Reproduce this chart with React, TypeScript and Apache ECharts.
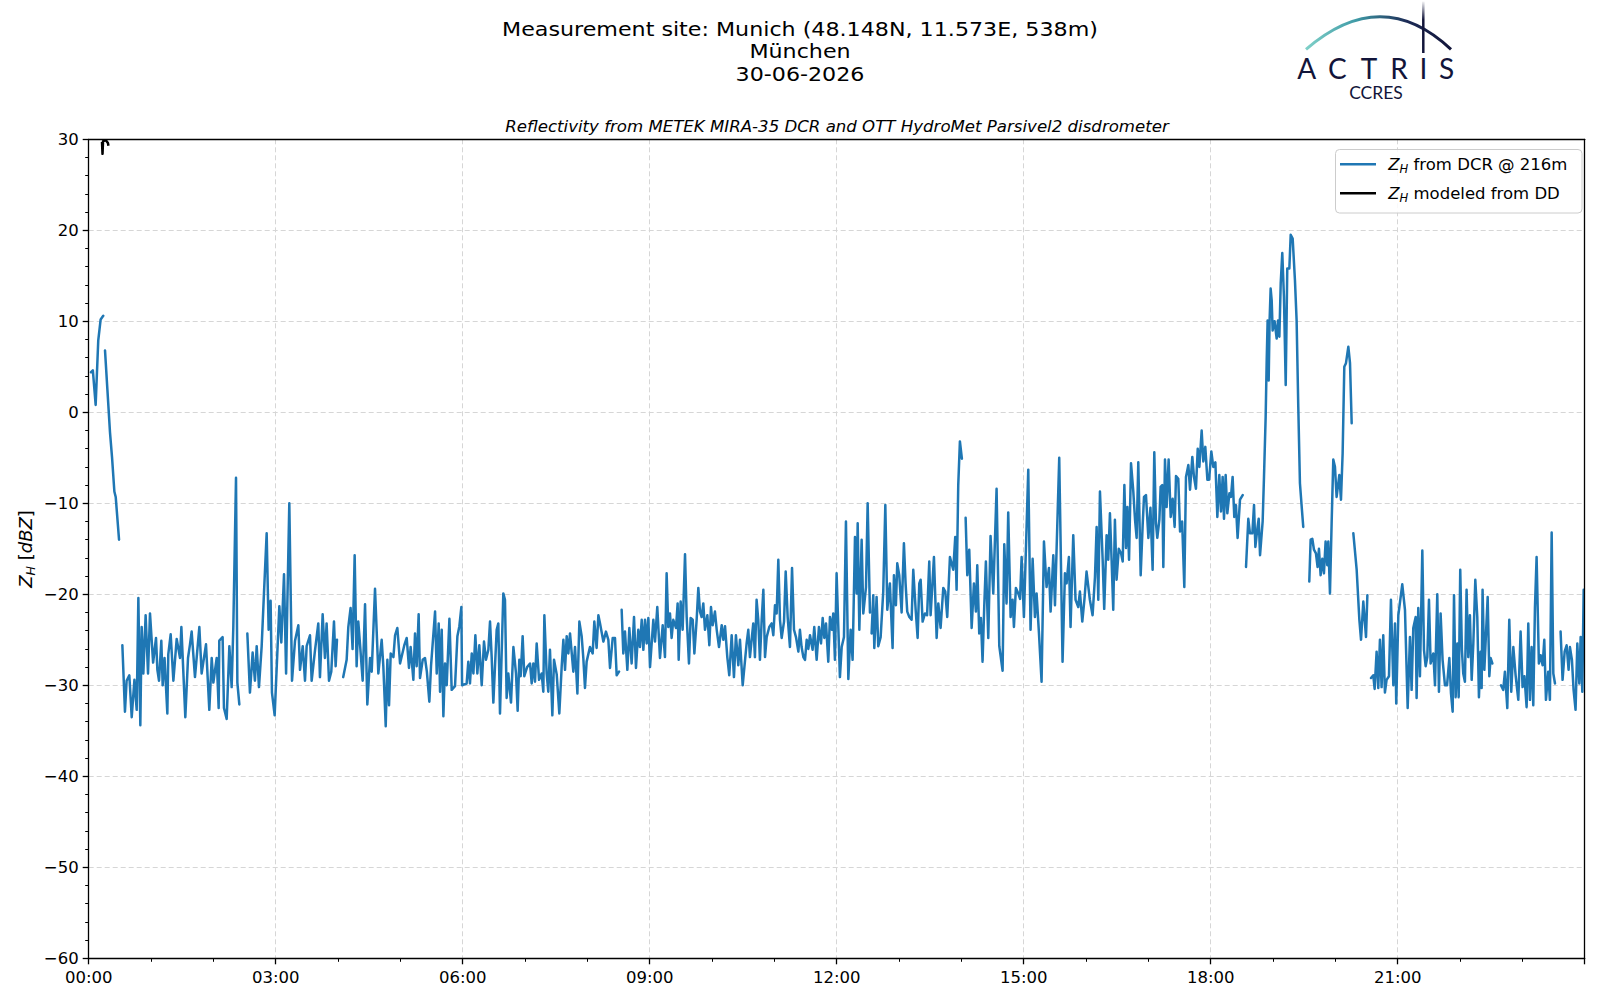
import React, { useEffect, useRef } from "react";
import * as echarts from "echarts";

const TITLE_LINES = ["Measurement site: Munich (48.148N, 11.573E, 538m)", "München", "30-06-2026"];
const SUBTITLE = "Reflectivity from METEK MIRA-35 DCR and OTT HydroMet Parsivel2 disdrometer";
const LEGEND_DCR = "{i|Z}{s|H}{r| from DCR @ 216m}";
const LEGEND_DD = "{i|Z}{s|H}{r| modeled from DD}";
const Y_NAME = "{i|Z}{s|H}{r| [}{i|dBZ}{r|]}";
const LOGO_LETTERS = ["A", "C", "T", "R", "I", "S"];

// x: minutes since 00:00, y: reflectivity dBZ
const X_MIN = 0;
const X_MAX = 1440;
const X_STEP = 180;
const Y_MIN = -60;
const Y_MAX = 30;
const Y_STEP = 10;

const dcrSeg1 = [[2.2, 4.4], [4, 4.6], [6.7, 0.8], [9.2, 7.9], [11.5, 10.2], [14, 10.6]];
const dcrSeg2 = [[15.7, 6.8], [18, 2.5], [20.5, -2.2], [22.5, -5], [24.7, -8.7], [26, -9.3], [29.2, -14]];
const dcrSeg3 = [[32.4, -25.6], [34.9, -32.9], [36.5, -29.5], [39.1, -28.9], [41.4, -33.5], [44, -29.4], [46.2, -32.7], [47.8, -20.4], [49.7, -34.4], [51, -23.6], [52.6, -28.7], [54.8, -22.3], [57.1, -28.7], [59, -22.1], [62, -27.5], [64.8, -24.8], [66.1, -28.3], [67.7, -29.5], [69.9, -25.1], [71.2, -30], [73, -27], [75.7, -33.1], [76.6, -26.6], [78.9, -24.4], [81.5, -29.5], [84.7, -24.9], [87.9, -27], [89.2, -23.6], [93, -33.5], [95.6, -27], [97.5, -25.5], [99.1, -24.1], [102.3, -29.1], [106.5, -23.6], [108.7, -28.7], [112.9, -25.5], [116.1, -32.7], [118.4, -27], [120, -29.7], [123.2, -27], [125.1, -32.5], [125.7, -25.1], [128.9, -24.7], [130.2, -32.5], [132.8, -33.7], [135.4, -25.7], [137.6, -30.2], [139.2, -23.6], [141.8, -7.2], [143.1, -29.7], [145, -32.1]];
const dcrSeg4 = [[152.7, -24.3], [155.2, -30.8], [157.8, -26.4], [160, -29.5], [161.7, -25.7], [163.9, -30.2], [166.5, -25.7], [168.7, -19.9], [171.3, -13.3], [173.2, -23.9], [175.1, -20.7], [176.4, -30.8], [179, -33.3], [183.5, -21.3], [185.4, -25.3], [188, -17.8], [190, -28.7], [191.2, -21.1], [193.1, -10], [195.7, -29.5], [198.6, -25.1], [201.8, -23.4], [203.4, -28.3], [206, -25.7], [208.2, -29.5], [209.8, -25.7], [213, -24.5], [214.6, -29.5], [217.8, -26.2], [221, -23.2], [222.6, -29.1], [225.2, -22.2], [227.4, -27], [229, -23.2], [231.3, -29.5], [233.5, -28.5], [236.1, -23], [237.7, -27.9], [239, -25]];
const dcrSeg5 = [[245, -29.1], [248.3, -27.2], [249.9, -23.6], [252.1, -21.5], [254, -26], [256, -15.7], [257.9, -27.9], [259.5, -23], [261.5, -26], [263.7, -29.5], [266, -21.1], [268.2, -32.1], [270.8, -27], [272.4, -28.5], [275.6, -19.4], [278.8, -28.7], [282, -25], [283.6, -27.9], [285.9, -34.5], [287.5, -27.2], [289.1, -32.2], [290.7, -26.5], [293.3, -26.9], [294.9, -24.5], [297.1, -23.7], [299.7, -27.6], [303.8, -25.6], [306.1, -24.8], [308.3, -28.1], [309.9, -25.8], [312.5, -29.4], [314.1, -24.3], [315.7, -27.9], [317.6, -22.2], [318.9, -29.2], [321.5, -27.2], [323.7, -27], [325.5, -28.5], [327.9, -31.8], [329.5, -27.9], [333.4, -21.9], [335, -28.7], [336.9, -23.2], [338.2, -30.7], [339.8, -23.9], [341.4, -33.4], [343, -27.6], [344.6, -30], [347.2, -22.7], [349.4, -30.5], [352.6, -30.1], [354.9, -24.6], [356.8, -23.5], [358.7, -21.4], [359.4, -30], [363.8, -29.8], [365.4, -27.4], [367, -29.8], [368.7, -26.5], [370.3, -28.7], [372.2, -24.5], [374.1, -28.7], [376, -25.6], [378.3, -30], [380.5, -25.2], [382.4, -27.2], [384.7, -26.1], [386.3, -23], [387.9, -26.9], [389.5, -31.9], [392.7, -23.9], [394.3, -23.2], [395.9, -33.1], [399.1, -19.9], [400.7, -20.6], [402.3, -31.4], [403.9, -28.7], [406.5, -31.9], [408.8, -25.8], [411.3, -28.7], [412.9, -32.8], [414.5, -27.2], [415.8, -29], [417.7, -24.6], [419.3, -29], [422, -28], [424.8, -27.6], [426.4, -29.8], [428, -27.6], [429.6, -29.6], [431.2, -25.4], [433.5, -29.4], [436, -28.7], [437.6, -30.7], [438.6, -22.3], [440.8, -28.7], [442.4, -30.7], [444, -26.1], [446.3, -33.3], [447.9, -27.2], [450.5, -28.8], [453, -33.1], [455.3, -27.9], [456.9, -25], [458.5, -28.3], [460.1, -24.6], [461.7, -26.5], [463.3, -24.3], [466.5, -28.5], [468.1, -25.8], [470.4, -30.9], [472.3, -23], [474.5, -24.6], [476.1, -27], [477.7, -30.3], [479.3, -27.4], [482.5, -25.8], [485.1, -26.5], [486.7, -23], [488.9, -25.9], [490.6, -22.3], [492.2, -23.2], [495.4, -25.2], [497.9, -24.1], [500.2, -25], [501.8, -28.1], [504.4, -24.8], [506.6, -24.8], [508.2, -28.9], [510.5, -28.5]];
const dcrSeg6 = [[513, -21.7], [514.6, -26.5], [516.2, -24.1], [518.5, -28.3], [520.4, -23.7], [522.6, -27.6], [524.9, -22.5], [526.8, -28.1], [529, -23.9], [530.6, -25.8], [532.3, -22.8], [533.9, -26.1], [535.5, -22.8], [537.1, -25.4], [538.7, -22.6], [540.3, -28], [543.5, -22.8], [545.1, -25.2], [547.3, -21.4], [549.9, -27], [552.5, -23.4], [554.7, -26.9], [556.3, -17.7], [557.9, -23.6], [559.5, -22.1], [561.1, -24.8], [562.7, -22.8], [565.3, -23.7], [566.9, -21], [567.9, -27.2], [569.8, -20.8], [571.7, -23.9], [574, -15.6], [575.6, -22.5], [577.8, -27.6], [579.4, -22.6], [581.4, -22.8], [583, -26.5], [585.2, -22.8], [586.8, -19.3], [588.4, -21.9], [590, -22.5], [591.6, -21], [593.2, -23.9], [595.5, -22.3], [597.4, -25.6], [599, -21.4], [600.6, -23.4], [602.8, -21.9], [604.5, -23.9], [606.7, -25.8], [609.3, -23.4], [610.9, -25], [612.5, -23.5], [614.7, -26.9], [616.6, -28.9], [618.9, -24.5], [621.1, -29.1], [623, -24.5], [625.3, -27.8], [626.9, -25], [629.5, -30], [633.3, -25.4], [634.9, -23.9], [636.5, -26.9], [638.1, -25], [639.7, -23.2], [641.3, -26.9], [642.9, -20.6], [644.5, -22.8], [646.1, -27.2], [647.8, -22.8], [649.4, -19.5], [651, -26.9], [652.6, -24.7], [655.1, -23.6], [657.4, -23.2], [659, -24.5], [660.6, -21.2], [662.2, -22.1], [663.8, -16.2], [665.4, -22.8], [667, -24.8], [669.3, -23], [670.9, -17.5], [672.8, -22.5], [675, -25.8], [677, -17.1], [678.9, -23.9], [680.8, -24.7], [683.1, -26.3], [684.6, -23.9], [686.2, -25.8], [687.9, -26.9], [689.5, -27.2], [691.1, -25], [692.7, -26], [694.3, -24.5], [696.8, -26.1], [698.4, -23.6], [700.7, -27.2], [702.9, -23.6], [704.9, -25.4], [706.5, -22.6], [708.1, -24.8], [709.7, -23.2], [711.9, -27.4], [713.5, -22.5], [715.4, -23.9], [716.7, -22.1], [718.3, -27.2], [719.9, -17.7], [723.1, -29.1], [724.8, -25.8], [727, -24.7], [728.9, -12], [731.2, -29.3], [733.4, -23.9], [735.3, -27.2], [737.6, -13.7], [739.2, -19.9], [740.2, -12.2], [741.8, -23.9], [744, -14], [745.6, -22.1], [748.2, -19.2], [749.8, -10], [752, -22]];
const dcrSeg7 = [[753.6, -24.3], [755.2, -20.1], [756.2, -25.9], [758.4, -20.3], [760, -25.7], [762.3, -24.7], [764.8, -19.7], [766.8, -10.2], [768.7, -21.7], [771.2, -18.8], [773.8, -25.9], [775.1, -17.9], [777, -21.2], [778.3, -16.6], [780.2, -17.9], [782.5, -22], [784.7, -14.4], [786.3, -18.8], [787.9, -21.9], [789.9, -22.5], [792.1, -22.8], [793.7, -17.3], [796, -21.7], [797.9, -24.8], [799.5, -18.8], [800.8, -18.4], [802.7, -23], [805, -22.1], [807, -22.3], [809.1, -16.4], [810.4, -22.3], [813.6, -15.9], [816.2, -24.8], [817.8, -21], [820, -23.7], [822.6, -19.3], [824.5, -19.7], [826.4, -22.5], [829, -15.9], [832.2, -17.3], [834.1, -13.7], [835.4, -19.5], [837, -8], [838.6, -3.2], [840.5, -5.1]];
const dcrSeg8 = [[844.1, -11.6], [845.7, -17.9], [847.6, -15.1], [849.9, -23.7], [852.1, -18.8], [854, -21.9], [855.3, -16.8], [857.2, -24.3], [858.8, -22.6], [860.4, -27.4], [862, -21.4], [863.6, -16.4], [865.9, -24.8], [868.1, -13.6], [870.7, -19.9], [873.9, -8.4], [876.5, -25.7], [879.7, -28.4], [881.3, -14.5], [883.5, -21], [885.1, -11], [887.4, -22.5], [889.3, -20.6], [890.6, -23.6], [892.5, -19.3], [894.8, -19.9], [896.5, -20.5], [898, -15.9], [900.2, -22.5], [904.4, -6.3], [906.6, -23.9], [908.6, -16.1], [910.8, -22.5], [912.4, -19.9], [914.7, -24.3], [917.2, -29.6], [919.5, -14.2], [922, -19.2], [924.3, -17.1], [925.9, -21.9], [928.5, -15.7], [930.1, -21.2], [934.2, -5], [937.4, -27.4], [939.7, -17.7], [941.3, -18.8], [943.5, -15.9], [945.1, -23.6], [947.7, -13.5], [949.9, -20.6], [952.5, -21.4], [954.1, -19.7], [956.4, -23], [958.5, -20.5], [960.5, -17.5], [963.7, -20.6], [966.3, -22.3], [968.6, -18.1], [970.2, -12.6], [971.8, -20.6], [973.4, -8.7], [976, -16.2], [977.5, -21.6], [979.8, -13.5], [981.4, -16.2], [983, -11.1], [984.6, -16.2], [986.2, -21.7], [987.8, -11.8], [989.4, -18.4], [991.5, -15], [993.7, -15.5], [995.3, -16.4], [996.9, -8], [998.5, -14.9], [999.8, -10.4], [1001.4, -16.2], [1003.3, -5.6], [1005.5, -8.7], [1007.1, -11.7], [1008.7, -13.8], [1010.3, -5.5], [1012.6, -17.9], [1014.5, -12.4], [1015.8, -9.3], [1017.7, -9.1], [1020, -13.8], [1022, -10.5], [1024.1, -17.3], [1025.7, -4.4], [1027.3, -12.2], [1028.6, -13.8], [1030.6, -11.8], [1031.8, -8.2], [1033.4, -8], [1034.4, -17], [1036, -5.2], [1037.6, -10.4], [1039.5, -5.2], [1041.5, -11.5], [1043.4, -9.5], [1045.3, -12.6], [1046.6, -7], [1048.8, -7.3], [1050.5, -13.1], [1052.5, -12], [1054.6, -19.2], [1056.2, -7.1], [1058.5, -5.8], [1060.1, -8.5], [1062.3, -4.9], [1063.9, -7.1], [1065.8, -8.4], [1067.5, -4], [1069.1, -6], [1071.3, -2], [1072.9, -5.4], [1074.8, -3.8], [1076.8, -7.4], [1078.5, -7.4], [1080.6, -4.3], [1082.5, -6], [1084.5, -5.5], [1086.4, -11.5], [1088.3, -6.9], [1089.9, -10.9], [1091.5, -7.1], [1092.8, -11.7], [1094.4, -6.9], [1096, -11.1], [1098, -8.9], [1099.5, -9.3], [1101.1, -7.1], [1102.7, -11.5], [1104.3, -10.2], [1105.9, -13.8], [1108.2, -9.6], [1110.8, -9.1]];
const dcrSeg9 = [[1114, -17], [1116.2, -11.7], [1117.8, -13.3], [1120.1, -13.3], [1121.7, -10.2], [1123, -14.8], [1124.9, -12.8], [1126.2, -11.7], [1127.5, -15.7], [1130, -12], [1131.3, -7.1], [1132.9, -0.5], [1133.9, 5.7], [1134.8, 10.1], [1135.8, 3.5], [1136.7, 10.1], [1137.7, 13.6], [1138.7, 12.3], [1139.6, 9], [1141.5, 10], [1143.5, 8.1], [1144.8, 10.1], [1146.1, 8.3], [1147.4, 14.2], [1148.9, 17.5], [1150.5, 12.7], [1152.2, 3], [1153.7, 15.8], [1155.7, 15.8], [1157, 19.5], [1158.9, 19.1], [1161.1, 14.5], [1162.7, 10.1], [1164.3, 0.6], [1165.9, -7.8], [1167.6, -10.4], [1169.1, -12.6]];
const dcrSeg10 = [[1174.9, -18.6], [1176.2, -14], [1177.8, -13.9], [1179.4, -15.1], [1181.3, -15.5], [1182.9, -17], [1184.2, -15], [1185.8, -17.9], [1187.4, -16.1], [1189, -17.7], [1190.6, -14.2], [1192.2, -16.8], [1193.2, -14.2], [1194.8, -19.9], [1196.4, -12.2], [1198, -5.2], [1199.6, -6], [1201.2, -9.3], [1203.8, -6.9], [1205.4, -9.6], [1207, -4.5], [1208.6, 5], [1210.2, 5.4], [1212.5, 7.2], [1214.1, 5.4], [1215.7, -1.2]];
const dcrSeg11 = [[1217.3, -13.3], [1220.5, -17.3], [1223.1, -22.8], [1224.7, -25], [1226.9, -20.8], [1229.5, -24.7], [1230.8, -20.1]];
const dcrSeg12 = [[1234.3, -29.2], [1236.5, -28.9], [1237.8, -30.4], [1239.7, -26.3], [1241.3, -30.3], [1242.9, -25], [1244.5, -30.2], [1246.1, -24.5], [1247.7, -30.8], [1249.3, -29.4], [1251.6, -29], [1253.5, -20.6], [1255.8, -30], [1257.4, -23.2], [1258.6, -32], [1260.6, -22.3], [1264.4, -18.9], [1267, -21.7], [1269.6, -32.5], [1271.8, -24.7], [1273.4, -30.5], [1275, -23.7], [1277.3, -22.5], [1278.2, -31.4], [1279.8, -21.5], [1281.4, -29], [1283.7, -15.2], [1285.3, -26.1], [1286.9, -27.9], [1288.5, -26.9], [1290.1, -20.6], [1291.7, -27.6], [1294.3, -26.5], [1295.9, -30], [1298.1, -20], [1299.7, -30.7], [1301.3, -22.1], [1303.2, -27.2], [1305.5, -30], [1307.5, -30], [1309.7, -27], [1311.3, -30.9], [1312.9, -32.9], [1314.2, -20.1], [1315.8, -31.3], [1317.4, -25.4], [1318.7, -31.3], [1320.2, -17.3], [1321.8, -26.1], [1323.1, -28.7], [1324.7, -29.6], [1326.3, -19.5], [1327.9, -26.9], [1329.5, -22.3], [1331.2, -29.4], [1332.8, -25.4], [1334.7, -18.4], [1336.6, -22.5], [1338.2, -31.3], [1339.8, -26.3], [1340.8, -30.3], [1341.7, -19.5], [1343.4, -28.3], [1345, -24.3], [1346.6, -20.3], [1348.2, -29], [1349.4, -27], [1351.1, -27.6]];
const dcrSeg13 = [[1359.4, -30], [1361.6, -30.5], [1363.2, -28.5], [1365.5, -32.5], [1367.4, -22.8], [1369.3, -30.7], [1371.3, -25.8], [1373.5, -28.9], [1376.1, -31.6], [1378.3, -24.1], [1380.2, -30.2], [1382, -29], [1384.1, -32.4], [1385.7, -23.2], [1387.3, -31.6], [1388.9, -25.8], [1390.5, -32.2], [1392.1, -21.5], [1393.7, -15.9], [1395.9, -27.6], [1397.6, -26.7], [1399.5, -27.8], [1401.1, -25], [1402.7, -31.6], [1404.9, -28.5], [1406.5, -31.6], [1408.2, -13.2], [1409.8, -28.7], [1411.4, -29.8]];
const dcrSeg14 = [[1416.8, -24.1], [1418.7, -29.4], [1420.7, -26.3], [1422.6, -25.6], [1424.5, -28.3], [1425.8, -25.8], [1427.7, -27.2], [1429.3, -30.5], [1431.2, -32.7], [1432.9, -25.4], [1434.8, -29.8], [1436.1, -24.7], [1437.7, -30.7], [1439, -19.5]];

const ddSeg = [[12.8, 29.7], [13.3, 28.4], [13.8, 29.8], [16.5, 29.9], [18.5, 29.6], [19, 29.3]];

const DCR_SEGMENTS = [dcrSeg1, dcrSeg2, dcrSeg3, dcrSeg4, dcrSeg5, dcrSeg6, dcrSeg7, dcrSeg8, dcrSeg9, dcrSeg10, dcrSeg11, dcrSeg12, dcrSeg13, dcrSeg14];

function joinSegments(segs: number[][][]) {
  const out: (number | null)[][] = [];
  segs.forEach((s, i) => {
    if (i > 0) {
      const prev = segs[i - 1];
      out.push([(prev[prev.length - 1][0] + s[0][0]) / 2, null]);
    }
    s.forEach((p) => out.push([p[0], p[1]]));
  });
  return out;
}

const FONT = "DejaVu Sans";
const BLUE = "#1f77b4";
const NAVY = "#12153a";

function fmtTime(v: number) {
  if (v >= 1440) return "";
  const h = Math.floor(v / 60);
  const m = Math.round(v % 60);
  return `${String(h).padStart(2, "0")}:${String(m).padStart(2, "0")}`;
}
function fmtY(v: number) {
  return v < 0 ? "\u2212" + Math.abs(v) : String(v);
}

export default function App() {
  const ref = useRef<HTMLDivElement>(null);
  useEffect(() => {
    const chart = echarts.init(ref.current!, null, { renderer: "svg" });
    const axisBlack = { color: "#000", width: 1.3 };
    const gridLine = { color: "#d6d6d6", width: 1, type: [5, 3] as any };
    const xBase = { type: "value", min: X_MIN, max: X_MAX, interval: X_STEP, gridIndex: 0 };
    const yBase = { type: "value", min: Y_MIN, max: Y_MAX, interval: Y_STEP, gridIndex: 0 };
    const hidden = { axisLine: { show: false }, axisTick: { show: false }, axisLabel: { show: false }, splitLine: { show: false } };
    const richSmall = (size: number) => ({
      i: { fontFamily: FONT, fontSize: size, fontStyle: "italic", color: "#000", lineHeight: size + 5 },
      s: { fontFamily: FONT, fontSize: size * 0.7, fontStyle: "italic", color: "#000", verticalAlign: "bottom", lineHeight: size * 0.7 },
      r: { fontFamily: FONT, fontSize: size, color: "#000", lineHeight: size + 5 },
    });
    const option: any = {
      animation: false,
      backgroundColor: "#fff",
      grid: { left: 88.7, right: 15.3, top: 139.3, bottom: 41.7, containLabel: false },
      xAxis: [
        { ...xBase, ...hidden, position: "bottom", z: 0, splitLine: { show: true, lineStyle: gridLine } },
        {
          ...xBase, position: "bottom", z: 10,
          axisLine: { show: true, onZero: false, lineStyle: axisBlack },
          axisTick: { show: true, length: 6, lineStyle: axisBlack },
          minorTick: { show: true, splitNumber: 3, length: 3.5, lineStyle: { color: "#000", width: 1 } },
          axisLabel: { show: true, formatter: fmtTime, fontFamily: FONT, fontSize: 16.5, color: "#000", margin: 10.5, showMaxLabel: false },
          splitLine: { show: false },
        },
        { ...xBase, ...hidden, position: "top", z: 10, axisLine: { show: true, onZero: false, lineStyle: axisBlack } },
      ],
      yAxis: [
        { ...yBase, ...hidden, position: "left", z: 0, splitLine: { show: true, lineStyle: gridLine } },
        {
          ...yBase, position: "left", z: 10,
          axisLine: { show: true, onZero: false, lineStyle: axisBlack },
          axisTick: { show: true, length: 6, lineStyle: axisBlack },
          minorTick: { show: true, splitNumber: 5, length: 3.5, lineStyle: { color: "#000", width: 1 } },
          axisLabel: { show: true, formatter: fmtY, fontFamily: FONT, fontSize: 16.5, color: "#000", margin: 10 },
          splitLine: { show: false },
        },
        { ...yBase, ...hidden, position: "right", z: 10, axisLine: { show: true, onZero: false, lineStyle: axisBlack } },
      ],
      series: [
        {
          name: "Z_H from DCR @ 216m", type: "line", xAxisIndex: 0, yAxisIndex: 0,
          data: joinSegments(DCR_SEGMENTS), showSymbol: false, symbol: "none", connectNulls: false, clip: true,
          lineStyle: { color: BLUE, width: 2.5, join: "round", cap: "round" }, itemStyle: { color: BLUE }, z: 2,
        },
        {
          name: "Z_H modeled from DD", type: "line", xAxisIndex: 0, yAxisIndex: 0,
          data: ddSeg, showSymbol: false, symbol: "none", clip: true,
          lineStyle: { color: "#000", width: 2.5, join: "round" }, itemStyle: { color: "#000" }, z: 3,
        },
      ],
      graphic: [
        ...TITLE_LINES.map((t, i) => ({
          type: "text", x: 800, y: 29.3 + i * 22.6, scaleX: 1.15, silent: true,
          style: { text: t, fontFamily: FONT, fontSize: 19.3, fill: "#000", align: "center", verticalAlign: "middle" },
        })),
        {
          type: "text", x: 837, y: 126, silent: true,
          style: { text: SUBTITLE, fontFamily: FONT, fontSize: 16.6, fontStyle: "italic", fill: "#000", align: "center", verticalAlign: "middle" },
        },
        {
          type: "text", x: 25, y: 549, rotation: Math.PI / 2, silent: true,
          style: { text: Y_NAME, rich: richSmall(18), align: "center", verticalAlign: "middle" },
        },
        // logo
        {
          type: "bezierCurve", silent: true,
          shape: { x1: 1306, y1: 49.3, x2: 1451, y2: 49.3, cpx1: 1381.5, cpy1: -15.9 },
          style: {
            fill: null, lineWidth: 3,
            stroke: new echarts.graphic.LinearGradient(0, 0, 1, 0, [
              { offset: 0, color: "#7fd0c8" },
              { offset: 0.35, color: "#3f9aa6" },
              { offset: 0.7, color: "#1c2a55" },
              { offset: 1, color: NAVY },
            ]),
          },
        },
        {
          type: "line", silent: true,
          shape: { x1: 1423.3, y1: 1.5, x2: 1423.3, y2: 53 },
          style: {
            lineWidth: 2.5,
            stroke: new echarts.graphic.LinearGradient(1423.3, 1.5, 1423.3, 53, [
              { offset: 0, color: "rgba(18,21,58,0.05)" },
              { offset: 0.35, color: NAVY },
              { offset: 1, color: NAVY },
            ], true),
          },
        },
        ...LOGO_LETTERS.map((ch, i) => ({
          type: "text", silent: true, x: [1306.7, 1337.3, 1369, 1399, 1423.3, 1446.7][i], y: 67.8,
          style: { text: ch, fontFamily: "Lato", fontSize: 28, fill: NAVY, align: "center", verticalAlign: "middle" },
        })),
        {
          type: "text", silent: true, x: 1376, y: 92.5,
          style: { text: "CCRES", fontFamily: "Lato", fontSize: 17.5, fill: NAVY, align: "center", verticalAlign: "middle" },
        },
        // legend
        {
          type: "rect", z: 100, silent: true,
          shape: { x: 1335.5, y: 149.5, width: 246.5, height: 63.5, r: 4 },
          style: { fill: "rgba(255,255,255,0.85)", stroke: "#cccccc", lineWidth: 1 },
        },
        { type: "line", z: 101, silent: true, shape: { x1: 1340, y1: 164.3, x2: 1376, y2: 164.3 }, style: { stroke: BLUE, lineWidth: 2.5 } },
        { type: "line", z: 101, silent: true, shape: { x1: 1340, y1: 193.3, x2: 1376, y2: 193.3 }, style: { stroke: "#000", lineWidth: 2.5 } },
        {
          type: "text", z: 101, silent: true, x: 1388.3, y: 164.3,
          style: { text: LEGEND_DCR, rich: richSmall(16.5), align: "left", verticalAlign: "middle" },
        },
        {
          type: "text", z: 101, silent: true, x: 1388.3, y: 193.3,
          style: { text: LEGEND_DD, rich: richSmall(16.5), align: "left", verticalAlign: "middle" },
        },
      ],
    };
    chart.setOption(option);
    return () => chart.dispose();
  }, []);
  return (
    <div
      ref={ref}
      style={{ position: "fixed", left: 0, top: 0, width: 1600, height: 1000, background: "#fff" }}
    />
  );
}
